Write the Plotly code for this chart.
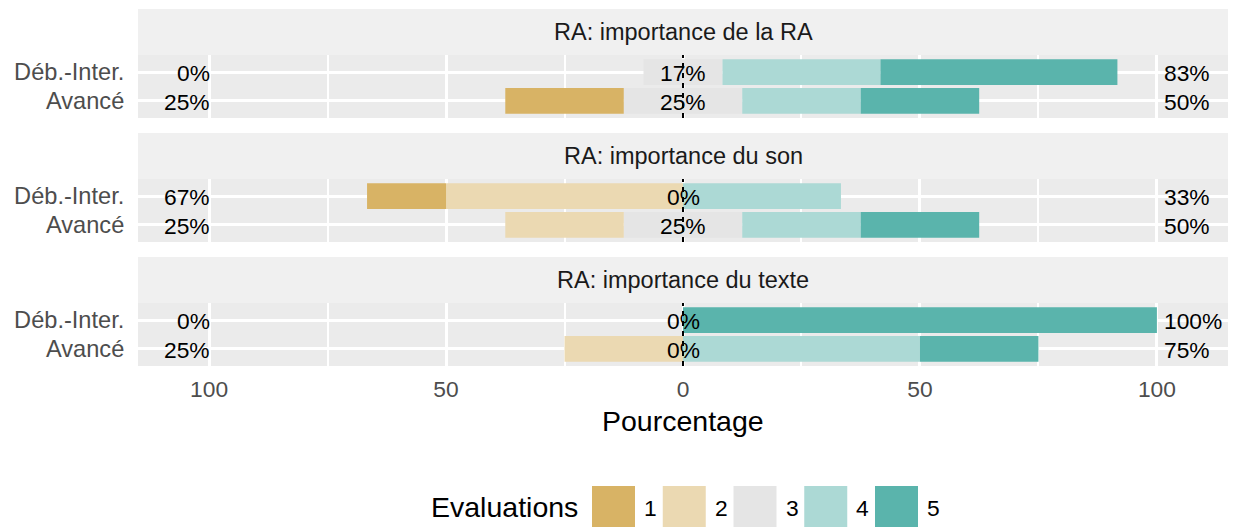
import plotly.graph_objects as go

# ---- data -------------------------------------------------------------
items = ["RA: importance de la RA", "RA: importance du son", "RA: importance du texte"]
groups = ["Déb.-Inter.", "Avancé"]
levels = ["1", "2", "3", "4", "5"]
level_colors = ["#D8B365", "#EBD9B2", "#E5E5E5", "#ACD9D5", "#5AB4AC"]

# share of answers (%) for levels 1..5, one row per group
pct_ra = [[0.0, 0.0, 16.67, 33.33, 50.0],
          [25.0, 0.0, 25.0, 25.0, 25.0]]
pct_son = [[16.67, 50.0, 0.0, 33.33, 0.0],
           [0.0, 25.0, 25.0, 25.0, 25.0]]
pct_texte = [[0.0, 0.0, 0.0, 0.0, 100.0],
             [0.0, 25.0, 0.0, 50.0, 25.0]]
panels = [pct_ra, pct_son, pct_texte]

x_ticks = [-100, -50, 0, 50, 100]
x_ticktext = ["100", "50", "0", "50", "100"]
x_minor = [-75, -25, 25, 75]

# ---- layout geometry (pixels) -----------------------------------------
W, H = 1242, 527
L, R, T, B = 138, 14, 9, 161
plot_h = H - T - B
def py(y):
    return (H - B - y) / plot_h
def px(x):
    return (x - L) / (W - L - R)

strip_tops = [9, 133, 257]
strip_h = 46
panel_h = 63

FONT = "Liberation Sans, Arial, Helvetica, sans-serif"
SMALL = 22.8
BIG = 28.5

fig = go.Figure()
shapes = []
annotations = []

for p, pct in enumerate(panels):
    sfx = "" if p == 0 else str(p + 1)
    xa, ya = "x" + sfx, "y" + sfx

    neutral_half = [row[2] / 2 for row in pct]
    # left side, stacked outward from 0: neutral half, level 2, level 1
    left = [(neutral_half, 2), ([row[1] for row in pct], 1), ([row[0] for row in pct], 0)]
    right = [(neutral_half, 2), ([row[3] for row in pct], 3), ([row[4] for row in pct], 4)]
    for vals, li in left:
        fig.add_trace(go.Bar(x=[-v for v in vals], y=groups, orientation="h",
                             marker=dict(color=level_colors[li], line=dict(width=0)),
                             xaxis=xa, yaxis=ya, hoverinfo="skip"))
    for vals, li in right:
        fig.add_trace(go.Bar(x=vals, y=groups, orientation="h",
                             marker=dict(color=level_colors[li], line=dict(width=0)),
                             xaxis=xa, yaxis=ya, hoverinfo="skip"))

    # percentage labels: low (1+2), neutral (3), high (4+5)
    low = [f"{round(row[0] + row[1])}%" for row in pct]
    mid = [f"{round(row[2])}%" for row in pct]
    high = [f"{round(row[3] + row[4])}%" for row in pct]
    tf = dict(family=FONT, size=SMALL, color="black")
    for g, lo, md, hi in zip(groups, low, mid, high):
        for xv, txt, anchor in ((-99.3, lo, "right"), (0, md, "center"), (101.0, hi, "left")):
            annotations.append(dict(text=txt, xref=xa, yref=ya, x=xv, y=g,
                                    xanchor=anchor, yanchor="middle", yshift=-1,
                                    showarrow=False, font=tf))

    top = strip_tops[p]
    dom = [py(top + strip_h + panel_h), py(top + strip_h)]
    last = p == len(panels) - 1

    fig.layout["xaxis" + sfx] = dict(
        domain=[0, 1], anchor=ya, range=[-115, 115],
        tickvals=x_ticks, ticktext=x_ticktext, showticklabels=last,
        ticks="outside" if last else "", ticklen=3, tickcolor="rgba(0,0,0,0)",
        tickfont=dict(family=FONT, size=SMALL, color="#4D4D4D"),
        showgrid=True, gridcolor="white", gridwidth=2.6,
        minor=dict(tickvals=x_minor, showgrid=True, gridcolor="white", gridwidth=2.0),
        zeroline=False, showline=False, fixedrange=True,
        matches=None if p == 0 else "x",
    )
    fig.layout["yaxis" + sfx] = dict(
        domain=dom, anchor=xa, type="category", categoryorder="array",
        categoryarray=groups, range=[1.6, -0.6],
        tickmode="array", tickvals=groups, ticktext=groups,
        ticks="outside", ticklen=8, tickcolor="rgba(0,0,0,0)",
        tickfont=dict(family=FONT, size=23.6, color="#4D4D4D"),
        showgrid=True, gridcolor="white", gridwidth=2.6,
        zeroline=False, showline=False, fixedrange=True,
    )

    # facet strip
    shapes.append(dict(type="rect", xref="paper", yref="paper",
                       x0=0, x1=1, y0=py(top + strip_h), y1=py(top),
                       fillcolor="#F0F0F0", line=dict(width=0), layer="below"))
    annotations.append(dict(text=items[p], xref="paper", yref="paper",
                            x=0.5, y=py(top + strip_h / 2), xanchor="center",
                            yanchor="middle", showarrow=False,
                            font=dict(family=FONT, size=23.5, color="#1A1A1A")))
    # dashed reference line at 0
    shapes.append(dict(type="line", xref=xa, yref="paper", x0=0, x1=0,
                       y0=dom[0], y1=dom[1],
                       line=dict(color="black", width=2, dash="5px,5px"), layer="above"))

# axis title
annotations.append(dict(text="Pourcentage", xref="paper", yref="paper",
                        x=0.5, y=py(421), xanchor="center", yanchor="middle",
                        showarrow=False, font=dict(family=FONT, size=BIG, color="black")))

# legend drawn as swatches + labels
annotations.append(dict(text="Evaluations", xref="paper", yref="paper",
                        x=px(429), y=py(507), xanchor="left", yanchor="middle",
                        showarrow=False, font=dict(family=FONT, size=BIG, color="black")))
sw, step, x_first, y_top = 43, 70.75, 592, 486
for i, (lab, col) in enumerate(zip(levels, level_colors)):
    x0 = x_first + i * step
    shapes.append(dict(type="rect", xref="paper", yref="paper",
                       x0=px(x0), x1=px(x0 + sw), y0=py(y_top + sw), y1=py(y_top),
                       fillcolor=col, line=dict(width=0), layer="above"))
    annotations.append(dict(text=lab, xref="paper", yref="paper",
                            x=px(x0 + sw + 7), y=py(y_top + sw / 2), xanchor="left",
                            yanchor="middle", showarrow=False,
                            font=dict(family=FONT, size=SMALL, color="black")))

fig.update_layout(
    width=W, height=H,
    margin=dict(l=L, r=R, t=T, b=B, pad=0),
    barmode="relative", bargap=0.1,
    plot_bgcolor="#EBEBEB", paper_bgcolor="white",
    showlegend=False, shapes=shapes, annotations=annotations,
    font=dict(family=FONT),
)

fig.write_html("out.html")
